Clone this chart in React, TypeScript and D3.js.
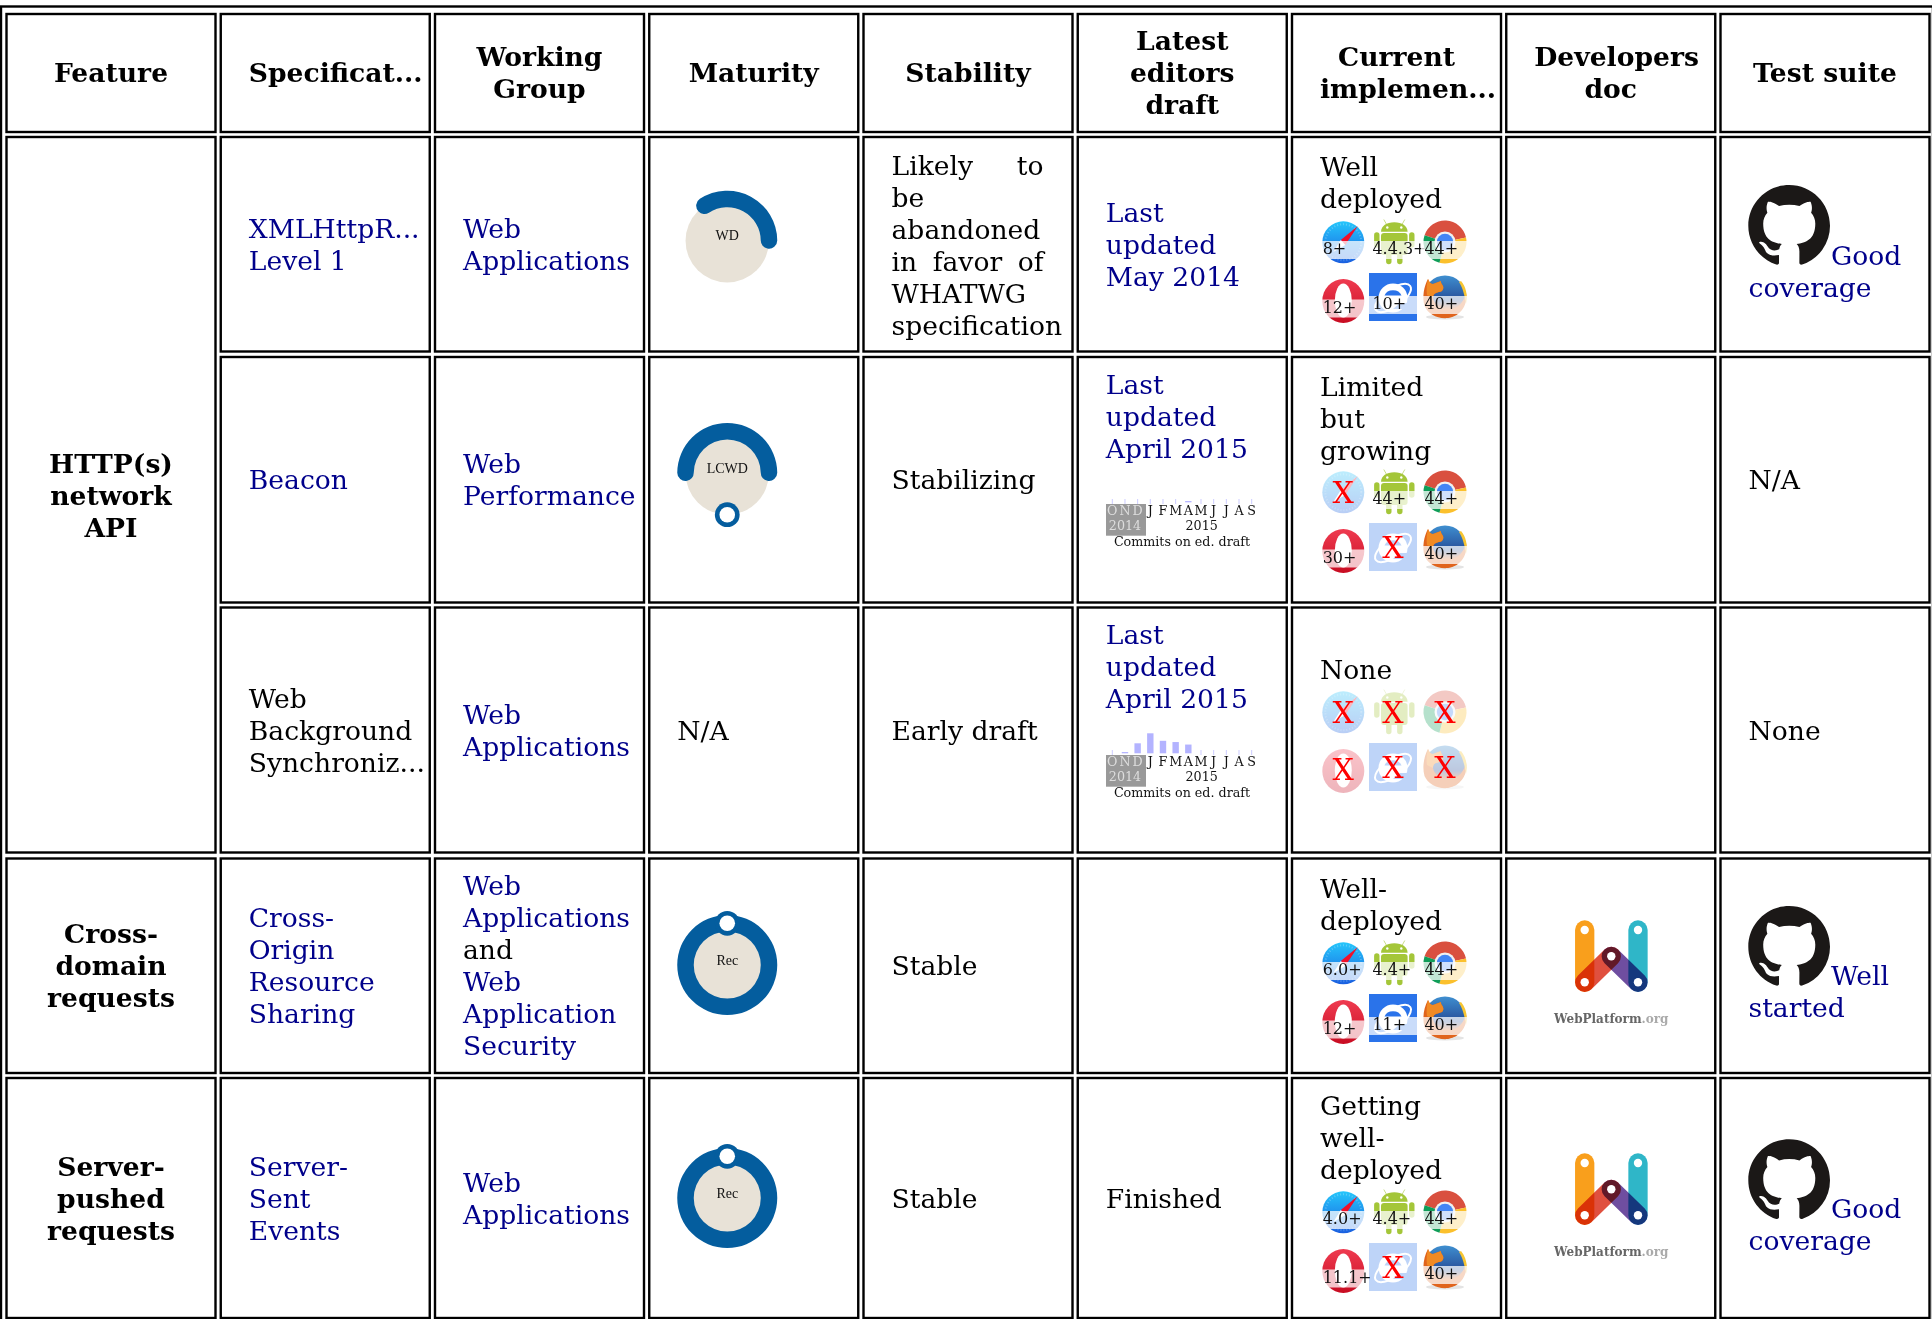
import React, { useEffect, useRef } from 'react';
import * as d3 from 'd3';

const W = 1932;
const H = 1319;
const SERIF = '"DejaVu Serif", serif';
const LINK = '#00008b';
const BLUE = '#045d9e';
const LINE = 32;
const FONT = 26.6;

// table text
const headers = [['Feature'], ['Specificat...'], ['Working', 'Group'], ['Maturity'], ['Stability'], ['Latest', 'editors', 'draft'], ['Current', 'implemen...'], ['Developers', 'doc'], ['Test suite']];
const overflowingHeaders = ['Specificat...', 'implemen...', 'Developers'];
const features = [['HTTP(s)', 'network', 'API'], ['Cross-', 'domain', 'requests'], ['Server-', 'pushed', 'requests']];
const featureSpans = [[0, 2], [3, 3], [4, 4]];
const specs = [['XMLHttpR...', 'Level 1'], ['Beacon'], ['Web', 'Background', 'Synchroniz...'], ['Cross-', 'Origin', 'Resource', 'Sharing'], ['Server-', 'Sent', 'Events']];
const specLinked = [true, true, false, true, true];
const groups = [['Web', 'Applications'], ['Web', 'Performance'], ['Web', 'Applications'], ['Web', 'Applications', 'and', 'Web', 'Application', 'Security'], ['Web', 'Applications']];
const stability = [['Likely to', 'be', 'abandoned', 'in favor of', 'WHATWG', 'specification'], ['Stabilizing'], ['Early draft'], ['Stable'], ['Stable']];
const justifiedLines = ['Likely to', 'in favor of'];
const drafts = [['Last', 'updated', 'May 2014'], ['Last', 'updated', 'April 2015'], ['Last', 'updated', 'April 2015'], [], ['Finished']];
const impl = [['Well', 'deployed'], ['Limited', 'but', 'growing'], ['None'], ['Well-', 'deployed'], ['Getting', 'well-', 'deployed']];
const tests = [['Good', 'coverage'], ['N/A'], ['None'], ['Well', 'started'], ['Good', 'coverage']];

// maturity gauges
const maturity = ['WD', 'LCWD', 'N/A', 'Rec', 'Rec'];
const maturityStart = [-33.5, -90, 0, 0, 0];
const maturityEnd = [90, 90, 0, 360, 360];
const maturityDot = [null, 180, null, 0, 0];

// browser support, null = not supported
const browsers = ['safari', 'android', 'chrome', 'opera', 'ie', 'firefox'];
const supportXhr = ['8+', '4.4.3+', '44+', '12+', '10+', '40+'];
const supportBeacon = [null, '44+', '44+', '30+', null, '40+'];
const supportSync = [null, null, null, null, null, null];
const supportCors = ['6.0+', '4.4+', '44+', '12+', '11+', '40+'];
const supportSse = ['4.0+', '4.4+', '44+', '11.1+', null, '40+'];
const support = [supportXhr, supportBeacon, supportSync, supportCors, supportSse];

// commits on the editors draft
const months = ['O', 'N', 'D', 'J', 'F', 'M', 'A', 'M', 'J', 'J', 'A', 'S'];
const beaconCommits = [0, 0, 0, 0, 0, 0, 1, 0, 0, 0, 0, 0];
const syncCommits = [0, 1, 8, 16, 10, 9, 7, 0, 0, 0, 0, 0];

// layout
const rowTop = [137, 357, 607.5, 858.5, 1078];
const rowBottom = [351.5, 602.5, 852.5, 1073, 1318];
const gaugeY = [240.7, 473, null, 965, 1198];
const gridTop = [218, 468, 688, 939, 1188];
const implFirst = [176, 395.7, 679, 898, 1115];
const gridX = [27.3, 77, 129];
const colX = d3.scaleLinear().domain([0, 9]).range([6.5, 6.5 + 9 * 214.25]);

type G = d3.Selection<SVGGElement, unknown, null, undefined>;

function lines(g: G, x: number, first: number, rows: string[], opts: any = {}) {
  rows.forEach((t, i) => {
    g.append('text')
      .attr('x', x)
      .attr('y', first + i * LINE)
      .attr('text-anchor', opts.anchor || 'start')
      .attr('font-family', SERIF)
      .attr('font-size', FONT)
      .attr('font-weight', opts.bold ? 700 : 400)
      .attr('fill', opts.color ? opts.color(t) : '#000')
      .text(t);
  });
}

const centeredFirst = (cy: number, n: number) => cy - ((n - 1) * LINE) / 2 + 9.5;

function safari(g: G, id: string) {
  const grad = g.append('linearGradient').attr('id', id).attr('x2', 0).attr('y2', 1);
  grad.append('stop').attr('offset', 0).attr('stop-color', '#25c6fb');
  grad.append('stop').attr('offset', 1).attr('stop-color', '#1a5fe0');
  g.append('circle').attr('cx', 24).attr('cy', 24.3).attr('r', 21).attr('fill', `url(#${id})`);
  g.append('circle').attr('cx', 24).attr('cy', 24.3).attr('r', 18).attr('fill', 'none').attr('stroke', '#fff').attr('stroke-opacity', 0.25).attr('stroke-width', 2).attr('stroke-dasharray', '1 2');
  g.append('path').attr('d', 'M38.5 8L21.5 22L26 27Z').attr('fill', '#f0102a');
  g.append('path').attr('d', 'M21.5 22L26 27L14 34Z').attr('fill', '#fff');
}

function android(g: G) {
  const c = '#a4c639';
  g.attr('transform', `${g.attr('transform')} translate(1.3,0)`);
  g.append('path').attr('d', 'M10.7 13.7C11 8 16 4.3 24 4.3S37 8 37.3 13.7Z').attr('fill', c);
  g.append('path').attr('d', 'M16 6L13.5 1.5M32 6L34.5 1.5').attr('stroke', c).attr('stroke-width', 1).attr('opacity', 0.6);
  g.append('circle').attr('cx', 17).attr('cy', 9.5).attr('r', 1.2).attr('fill', '#fff');
  g.append('circle').attr('cx', 31).attr('cy', 9.5).attr('r', 1.2).attr('fill', '#fff');
  g.append('rect').attr('x', 10.7).attr('y', 15).attr('width', 26.6).attr('height', 22).attr('rx', 3).attr('fill', c);
  [6.5, 41.5, 18.5, 29.5].forEach((x, i) => {
    g.append('line').attr('x1', x).attr('x2', x).attr('y1', i < 2 ? 17 : 35).attr('y2', i < 2 ? 27 : 43.5)
      .attr('stroke', c).attr('stroke-width', 5.4).attr('stroke-linecap', 'round');
  });
}

function chrome(g: G) {
  const a = d3.arc<any>().innerRadius(0).outerRadius(21.5);
  const rad = (d: number) => (d * Math.PI) / 180;
  const parts: [number, number, string][] = [[-72, 78, '#d9503f'], [78, 195, '#fbc02d'], [195, 288, '#0f9d58']];
  const gg = g.append('g').attr('transform', 'translate(24,24)');
  parts.forEach(([s, e, c]) => {
    gg.append('path').attr('d', a({ startAngle: rad(s), endAngle: rad(e) }) as string).attr('fill', c);
  });
  gg.append('circle').attr('r', 10.5).attr('fill', '#f0f0f0');
  gg.append('circle').attr('r', 8.2).attr('fill', '#4285f4');
}

function opera(g: G, id: string) {
  const grad = g.append('linearGradient').attr('id', id).attr('x2', 0).attr('y2', 1);
  grad.append('stop').attr('offset', 0).attr('stop-color', '#ef3b50');
  grad.append('stop').attr('offset', 1).attr('stop-color', '#c80c22');
  g.append('ellipse').attr('cx', 24).attr('cy', 28).attr('rx', 21).attr('ry', 22).attr('fill', `url(#${id})`);
  g.append('ellipse').attr('cx', 24).attr('cy', 27.5).attr('rx', 8.5).attr('ry', 17).attr('fill', '#fff');
}

function ie(g: G) {
  g.append('rect').attr('width', 48).attr('height', 48).attr('fill', '#2a73ea');
  g.append('ellipse').attr('cx', 24).attr('cy', 25).attr('rx', 21).attr('ry', 9).attr('fill', 'none').attr('stroke', '#fff').attr('stroke-width', 2).attr('transform', 'rotate(-35 24 25)');
  g.append('circle').attr('cx', 24).attr('cy', 25).attr('r', 14.5).attr('fill', '#fff');
  g.append('path').attr('d', 'M15.5 22.5A9 8 0 0 1 32.5 22.5Z').attr('fill', '#2a73ea');
  g.append('path').attr('d', 'M31 30H40L38 36H24Z').attr('fill', '#2a73ea');
}

function firefox(g: G, id: string) {
  const grad = g.append('linearGradient').attr('id', id).attr('x2', 0).attr('y2', 1);
  grad.append('stop').attr('offset', 0).attr('stop-color', '#3f8fd0');
  grad.append('stop').attr('offset', 0.6).attr('stop-color', '#274e98');
  grad.append('stop').attr('offset', 0.8).attr('stop-color', '#d9651c');
  grad.append('stop').attr('offset', 1).attr('stop-color', '#b5301a');
  g.append('ellipse').attr('cx', 24).attr('cy', 44).attr('rx', 19).attr('ry', 2.5).attr('fill', '#bbb').attr('opacity', 0.4);
  g.append('circle').attr('cx', 24).attr('cy', 23.5).attr('r', 21).attr('fill', `url(#${id})`);
  g.append('path').attr('d', 'M3.5 33C1 24 3 13 7 6C8 9 10 11 12 11L20 8C19 11 25 13 21 18C17 20 12 19 12 25C13 32 21 37 30 36C38 35 43 28 45 20C47 30 41 43 27 45C16 46 7 41 3.5 33Z').attr('fill', '#e0641c');
  g.append('path').attr('d', 'M7 6C8 9 10 11 12 11L20 8C19 11 25 13 21 18C17 20 12 19 12 25L6 22C5 16 6 10 7 6Z').attr('fill', '#f08a24');
  g.append('path').attr('d', 'M40 8C45 14 47 22 45 31C44 24 42 15 38 9Z').attr('fill', '#f7c531');
}

function drawIcon(g: G, name: string, id: string) {
  if (name === 'safari') safari(g, id);
  if (name === 'android') android(g);
  if (name === 'chrome') chrome(g);
  if (name === 'opera') opera(g, id);
  if (name === 'ie') ie(g);
  if (name === 'firefox') firefox(g, id);
}

function drawSupport(svg: G, r: number) {
  const left = colX(6);
  support[r].forEach((label, i) => {
    const bx = left + gridX[i % 3];
    const by = gridTop[r] + (i >= 3 ? 55 : 0);
    const isOpera = browsers[i] === 'opera';
    const box = svg.append('g').attr('transform', `translate(${bx},${by})`);
    const icon = box.append('g').attr('transform', 'translate(0,0)').attr('opacity', label ? 1 : 0.3);
    drawIcon(icon, browsers[i], `grad-${r}-${i}`);
    if (label) {
      box.append('rect').attr('y', isOpera ? 26.5 : 23).attr('width', 48).attr('height', 18).attr('fill', '#fff').attr('opacity', 0.75);
      box.append('text').attr('x', 3.4).attr('y', isOpera ? 39.5 : 36)
        .attr('font-family', SERIF).attr('font-size', 16).attr('fill', '#111').text(label);
    } else {
      box.append('text').attr('x', 24).attr('y', isOpera ? 37 : 35).attr('text-anchor', 'middle')
        .attr('font-family', SERIF).attr('font-size', 30).attr('fill', '#ff0000').text('X');
    }
  });
}

function drawGauge(svg: G, r: number) {
  const cy = gaugeY[r] as number;
  const g = svg.append('g').attr('transform', `translate(${colX(3) + 78},${cy})`);
  g.append('circle').attr('r', 41.7).attr('fill', '#e8e2d7');
  const full = maturityEnd[r] - maturityStart[r] >= 360;
  const cap = full ? 0 : 11;
  const rad = d3.scaleLinear().domain([0, 180]).range([0, Math.PI]);
  const arc = d3.arc<any>().innerRadius(33.5).outerRadius(50).cornerRadius(full ? 0 : 8.2);
  g.append('path')
    .attr('d', arc({ startAngle: rad(maturityStart[r] - cap), endAngle: rad(maturityEnd[r] + cap) }) as string)
    .attr('fill', BLUE);
  const dot = maturityDot[r];
  if (dot !== null) {
    const a = rad(dot);
    const dx = 41.7 * Math.sin(a);
    const dy = -41.7 * Math.cos(a);
    g.append('circle').attr('cx', dx).attr('cy', dy).attr('r', 12.4).attr('fill', BLUE);
    g.append('circle').attr('cx', dx).attr('cy', dy).attr('r', 7.8).attr('fill', '#fff');
  }
  g.append('text').attr('text-anchor', 'middle').attr('y', -0.5)
    .attr('font-family', '"Liberation Serif", serif').attr('font-size', 14).attr('fill', '#111').text(maturity[r]);
}

function drawCommits(svg: G, top: number, values: number[]) {
  const x = d3.scalePoint<number>().domain(d3.range(months.length)).range([1112.3, 1112.3 + 11 * 12.67]);
  const h = d3.scaleLinear().domain([0, 16]).range([0, 20]);
  svg.append('rect').attr('x', 1106).attr('y', top).attr('width', 40).attr('height', 31.7).attr('fill', '#999');
  values.forEach((v, i) => {
    const cx = x(i) as number;
    if (v === 0) {
      svg.append('rect').attr('x', cx - 0.5).attr('y', top - 5).attr('width', 1).attr('height', 5).attr('fill', '#ccccff');
    } else {
      svg.append('rect').attr('x', cx - 3.2).attr('y', top - 1.7 - h(v)).attr('width', 6.4).attr('height', h(v)).attr('fill', '#b3b3ff');
    }
  });
  months.forEach((m, i) => {
    svg.append('text').attr('x', x(i) as number).attr('y', top + 10.7).attr('text-anchor', 'middle')
      .attr('font-family', SERIF).attr('font-size', 12.7).attr('fill', i < 3 ? '#ddd' : '#111').text(m);
  });
  const small = (t: string, cx: number, y: number, c: string) =>
    svg.append('text').attr('x', cx).attr('y', y).attr('text-anchor', 'middle')
      .attr('font-family', SERIF).attr('font-size', 12.7).attr('fill', c).text(t);
  small('2014', 1125, top + 25.7, '#ddd');
  small('2015', 1201.7, top + 25.7, '#111');
  small('Commits on ed. draft', 1182, top + 41.7, '#111');
}

function drawGithub(svg: G, top: number) {
  const s = 81.7 / 16;
  svg.append('path')
    .attr('transform', `translate(1748.3,${top}) scale(${s})`)
    .attr('fill', '#1b1817')
    .attr('d', 'M8 0C3.58 0 0 3.58 0 8c0 3.54 2.29 6.53 5.47 7.59.4.07.55-.17.55-.38 0-.19-.01-.82-.01-1.49-2.01.37-2.53-.49-2.69-.94-.09-.23-.48-.94-.82-1.13-.28-.15-.68-.52-.01-.53.63-.01 1.08.58 1.23.82.72 1.21 1.87.87 2.33.66.07-.52.28-.87.51-1.07-1.78-.2-3.64-.89-3.64-3.95 0-.87.31-1.59.82-2.15-.08-.2-.36-1.02.08-2.12 0 0 .67-.21 2.2.82.64-.18 1.32-.27 2-.27.68 0 1.36.09 2 .27 1.53-1.04 2.2-.82 2.2-.82.44 1.1.16 1.92.08 2.12.51.56.82 1.27.82 2.15 0 3.07-1.87 3.75-3.65 3.95.29.25.54.73.54 1.48 0 1.07-.01 1.93-.01 2.2 0 .21.15.46.55.38A8.013 8.013 0 0016 8c0-4.42-3.58-8-8-8z');
}

function drawWebPlatform(svg: G, dy: number) {
  const g = svg.append('g').attr('transform', `translate(0,${dy})`).style('isolation', 'isolate');
  const bar = (x1: number, y1: number, x2: number, y2: number, c: string) =>
    g.append('line').attr('x1', x1).attr('y1', y1).attr('x2', x2).attr('y2', y2)
      .attr('stroke', c).attr('stroke-width', 19.3).attr('stroke-linecap', 'round')
      .style('mix-blend-mode', 'multiply');
  bar(1584.7, 930, 1584.7, 982.3, '#f99f1c');
  bar(1638, 930, 1638, 982.3, '#2fb6c8');
  bar(1584.7, 982.3, 1611.3, 956.3, '#e0503f');
  bar(1611.3, 956.3, 1638, 982.3, '#6f4ea0');
  [[1584.7, 930], [1638, 930], [1611.3, 956.3], [1584.7, 982.3], [1638, 982.3]].forEach(([x, y]) => {
    g.append('circle').attr('cx', x).attr('cy', y).attr('r', 4.2).attr('fill', '#fff');
  });
  const t = g.append('text').attr('x', 1554).attr('y', 1022.7).attr('font-family', SERIF).attr('font-size', 12).attr('font-weight', 700);
  t.append('tspan').attr('fill', '#666').text('WebPlatform');
  t.append('tspan').attr('fill', '#aaa').text('.org');
}

export default function App() {
  const ref = useRef<SVGSVGElement>(null);

  useEffect(() => {
    if (!ref.current) return;
    const root = d3.select(ref.current);
    root.selectAll('*').remove();
    const svg = root.append('g') as unknown as G;
    const ctx = document.createElement('canvas').getContext('2d') as CanvasRenderingContext2D;
    ctx.font = `${FONT}px ${SERIF}`;

    const cellW = 209;
    const pad = 28;
    // table frame
    svg.append('rect').attr('x', 1).attr('y', 6.5).attr('width', W).attr('height', H).attr('fill', 'none').attr('stroke', '#000').attr('stroke-width', 2.4);
    const cell = (c: number, y0: number, y1: number) =>
      svg.append('rect').attr('x', colX(c)).attr('y', y0).attr('width', cellW).attr('height', y1 - y0)
        .attr('fill', '#fff').attr('stroke', '#000').attr('stroke-width', 2.4);

    headers.forEach((h, c) => {
      cell(c, 14, 132);
      const first = centeredFirst(72.7, h.length);
      h.forEach((t, i) => {
        // titles wider than the cell stay on the left padding
        if (overflowingHeaders.includes(t)) lines(svg, colX(c) + pad, first + i * LINE, [t], { bold: true });
        else lines(svg, colX(c) + cellW / 2, first + i * LINE, [t], { anchor: 'middle', bold: true });
      });
    });
    featureSpans.forEach(([a, b], i) => {
      cell(0, rowTop[a], rowBottom[b]);
      const cy = (rowTop[a] + rowBottom[b]) / 2 + (i === 0 ? 1 : 0);
      lines(svg, colX(0) + cellW / 2, centeredFirst(cy, features[i].length), features[i], { anchor: 'middle', bold: true });
    });

    specs.forEach((_, r) => {
      d3.range(1, 9).forEach((c) => cell(c, rowTop[r], rowBottom[r]));
      const cy = (rowTop[r] + rowBottom[r]) / 2;
      lines(svg, colX(1) + pad, centeredFirst(cy, specs[r].length), specs[r], { color: () => (specLinked[r] ? LINK : '#000') });
      lines(svg, colX(2) + pad, centeredFirst(cy, groups[r].length), groups[r], { color: (t: string) => (t === 'and' ? '#000' : LINK) });

      if (gaugeY[r] !== null) drawGauge(svg, r);
      else lines(svg, colX(3) + pad, centeredFirst(cy, 1), [maturity[r]]);

      const sx = colX(4) + pad;
      const sFirst = centeredFirst(cy + (r === 0 ? 1 : 0), stability[r].length);
      stability[r].forEach((t, i) => {
        if (justifiedLines.includes(t)) {
          const words = t.split(' ');
          const widths = words.map((w) => ctx.measureText(w).width);
          const gap = (152 - d3.sum(widths)) / (words.length - 1);
          let wx = sx;
          words.forEach((w, k) => {
            lines(svg, wx, sFirst + i * LINE, [w]);
            wx += widths[k] + gap;
          });
        } else {
          lines(svg, sx, sFirst + i * LINE, [t]);
        }
      });

      drawSupport(svg, r);
      lines(svg, colX(6) + pad, implFirst[r], impl[r]);
      lines(svg, colX(8) + pad, centeredFirst(cy, tests[r].length), r === 1 || r === 2 ? tests[r] : []);
    });

    // latest editors draft
    lines(svg, colX(5) + pad, 221.7, drafts[0], { color: () => LINK });
    lines(svg, colX(5) + pad, 394, drafts[1], { color: () => LINK });
    lines(svg, colX(5) + pad, 643.8, drafts[2], { color: () => LINK });
    lines(svg, colX(5) + pad, 1198 + 9.5, drafts[4]);
    drawCommits(svg, 504, beaconCommits);
    drawCommits(svg, 755, syncCommits);

    // dev docs and test suites
    drawWebPlatform(svg, 0);
    drawWebPlatform(svg, 233);
    [[0, 185, 265], [3, 906, 985], [4, 1139.3, 1218.3]].forEach(([r, top, base]) => {
      drawGithub(svg, top);
      lines(svg, 1831, base, [tests[r][0]], { color: () => LINK });
      lines(svg, colX(8) + pad, base + LINE, [tests[r][1]], { color: () => LINK });
    });
  }, []);

  return <svg ref={ref} width={W} height={H} style={{ position: 'absolute', left: 0, top: 0, background: '#fff' }} />;
}
